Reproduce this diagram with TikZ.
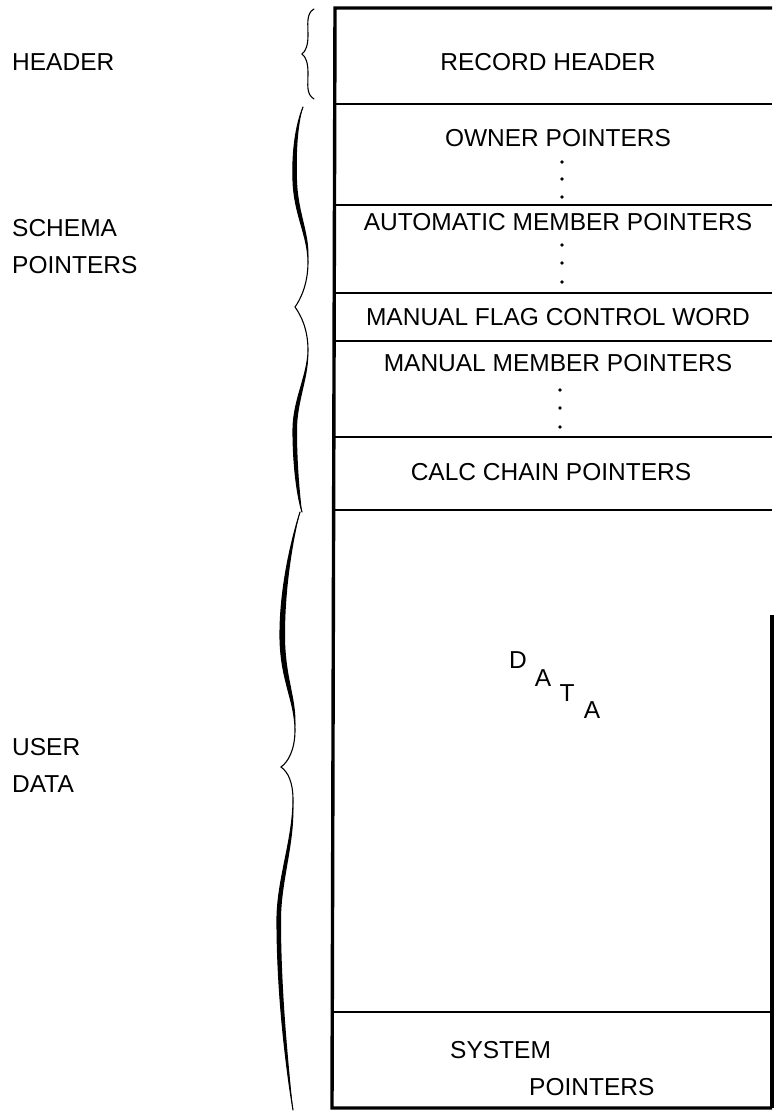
\documentclass[tikz,border=0pt]{standalone}
\usepackage{fontspec}
\setmainfont{Liberation Sans}
\usepackage{tikz}
\usetikzlibrary{positioning}

\begin{document}
\begin{tikzpicture}[
  x=1pt,y=-1pt,
  lbl/.style={font=\fontsize{24.5}{37}\selectfont,inner sep=0pt},
  side/.style={lbl,anchor=west,align=left},
  frame/.style={line width=3.4pt,line join=miter},
  divider/.style={line width=1.8pt},
  brace/.style={line width=1.1pt,line cap=round},
]
\useasboundingbox (0,0) rectangle (774,1112);

% record outline
\draw[frame] (772,8) -- (335,8) -- (332,1108) -- (772,1108);
\draw[frame] (772,615) -- (772,1108);
\draw[divider] (334,104) -- (772,104);
\draw[divider] (334,205) -- (772,205);
\draw[divider] (334,293) -- (772,293);
\draw[divider] (334,341) -- (772,341);
\draw[divider] (333,437) -- (772,437);
\draw[divider] (333,510) -- (772,510);
\draw[divider] (332,1012) -- (772,1012);

% fields
\node[lbl] (hdr) at (548,62) {RECORD HEADER};
\node[lbl] (owner) at (558,138) {OWNER POINTERS};
\node[lbl] (auto) at (558,222) {AUTOMATIC MEMBER POINTERS};
\node[lbl] (flag) at (558,317) {MANUAL FLAG CONTROL WORD};
\node[lbl] (manual) at (558,363) {MANUAL MEMBER POINTERS};
\node[lbl] (calc) at (551,472) {CALC CHAIN POINTERS};
\node[lbl] (d1) at (518,660) {D};
\node[lbl] (d2) at (543,678) {A};
\node[lbl] (d3) at (567,693) {T};
\node[lbl] (d4) at (592,710) {A};
\node[lbl,anchor=west] (sys1) at (450,1050) {SYSTEM};
\node[lbl,anchor=west] (sys2) at (529,1087) {POINTERS};

\foreach \y in {162,179,197} \fill (562,\y) circle (1.8);
\foreach \y in {245,263,282} \fill (562,\y) circle (1.8);
\foreach \y in {390,408,427} \fill (560,\y) circle (1.8);

% groups on the left
\node[side] (hgrp) at (12,62) {HEADER};
\node[side] (sgrp) at (12,247) {SCHEMA\\POINTERS};
\node[side] (ugrp) at (12,765) {USER\\DATA};

\draw[brace] (314,9) .. controls (306,13) and (308,25) .. (308,35)
  .. controls (308,45) and (306,51) .. (302,54)
  .. controls (306,57) and (308,63) .. (308,73)
  .. controls (308,85) and (306,94) .. (314,99);

\draw[brace] (303,107) .. controls (296,125) and (292,150) .. (293,180)
  .. controls (294,215) and (308,235) .. (308,262)
  .. controls (308,285) and (300,300) .. (295,307)
  .. controls (300,314) and (308,328) .. (308,350)
  .. controls (308,375) and (293,400) .. (293,430)
  .. controls (293,465) and (297,495) .. (302,512);
\fill (303,107) .. controls (296,125) and (292,150) .. (293,180)
  .. controls (294,215) and (308,235) .. (308,262)
  .. controls (311,235) and (298,215) .. (297,180)
  .. controls (296,150) and (298,125) .. (303,107);
\fill (308,350) .. controls (308,375) and (293,400) .. (293,430)
  .. controls (293,465) and (297,495) .. (302,512)
  .. controls (300,495) and (297,465) .. (297,430)
  .. controls (297,400) and (310,375) .. (308,350);

\draw[brace] (300,512) .. controls (290,545) and (280,590) .. (280,635)
  .. controls (280,680) and (295,700) .. (295,730)
  .. controls (295,750) and (288,762) .. (281,767)
  .. controls (288,772) and (293,782) .. (293,800)
  .. controls (293,840) and (277,880) .. (277,920)
  .. controls (277,990) and (285,1060) .. (293,1110);
\fill (300,512) .. controls (290,545) and (280,590) .. (280,635)
  .. controls (280,680) and (295,700) .. (295,730)
  .. controls (298,700) and (285,680) .. (285,635)
  .. controls (285,590) and (292,545) .. (300,512);
\fill (293,800) .. controls (293,840) and (277,880) .. (277,920)
  .. controls (277,990) and (285,1060) .. (293,1110)
  .. controls (288,1060) and (281,990) .. (281,920)
  .. controls (281,880) and (296,840) .. (293,800);
\end{tikzpicture}
\end{document}
